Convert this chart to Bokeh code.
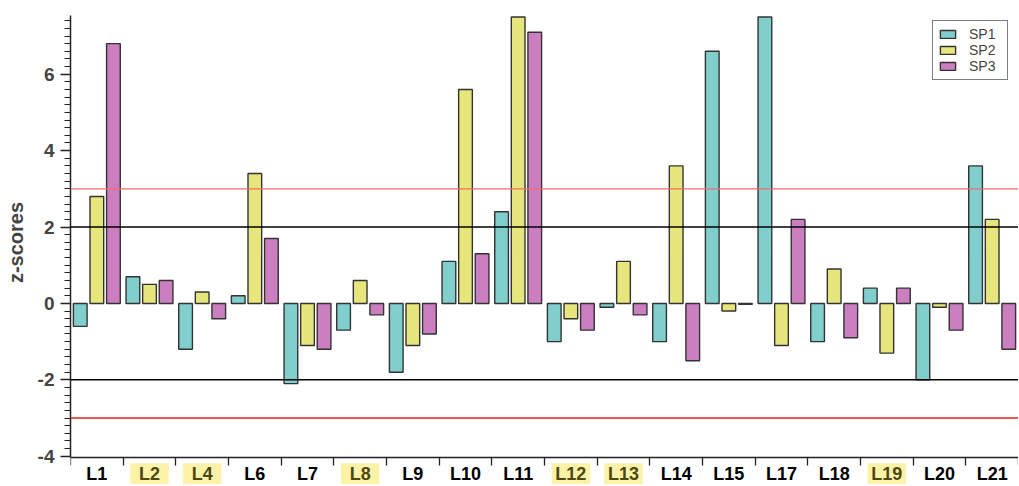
import numpy as np
from bokeh.plotting import figure
from bokeh.models import (ColumnDataSource, Range1d, FixedTicker, Span,
                          Legend, LegendItem)
from bokeh.core.properties import value
from bokeh.embed import file_html
from bokeh.resources import INLINE

categories = ["L1", "L2", "L4", "L6", "L7", "L8", "L9", "L10", "L11",
              "L12", "L13", "L14", "L15", "L17", "L18", "L19", "L20", "L21"]
highlighted = ["L2", "L4", "L8", "L12", "L13", "L19"]
sp1 = [-0.6, 0.7, -1.2, 0.2, -2.1, -0.7, -1.8, 1.1, 2.4,
       -1.0, -0.1, -1.0, 6.6, 7.5, -1.0, 0.4, -2.0, 3.6]
sp2 = [2.8, 0.5, 0.3, 3.4, -1.1, 0.6, -1.1, 5.6, 7.5,
       -0.4, 1.1, 3.6, -0.2, -1.1, 0.9, -1.3, -0.1, 2.2]
sp3 = [6.8, 0.6, -0.4, 1.7, -1.2, -0.3, -0.8, 1.3, 7.1,
       -0.7, -0.3, -1.5, -0.02, 2.2, -0.9, 0.4, -0.7, -1.2]
series_names = ["SP1", "SP2", "SP3"]
series_colors = ["#80cfcc", "#e6e67c", "#cc7fc0"]
y_ticks = [-4, -2, 0, 2, 4, 6]
thresholds_black = [2, -2]
thresholds_red = [3, -3]

FONT = "Liberation Sans"
Y_MIN, Y_MAX = -4.04, 7.55
Y_TOP = 7.93          # headroom above the axis end
Y_BOTTOM = -4.74      # extra room below the axis for the category labels
LABEL_Y = -4.47

p = figure(frame_width=948, frame_height=484, output_backend="svg", toolbar_location=None,
           x_range=Range1d(0, len(categories)), y_range=Range1d(Y_BOTTOM, Y_TOP),
           min_border_left=70, min_border_right=0, min_border_top=0,
           min_border_bottom=0)
p.outline_line_color = None
p.grid.visible = False

centers = np.arange(len(categories)) + 0.5
offsets = [-0.315, 0.0, 0.315]
renderers = []
for name, vals, col, off in zip(series_names, [sp1, sp2, sp3], series_colors, offsets):
    src = ColumnDataSource(dict(x=centers + off, top=vals, bottom=[0] * len(vals)))
    r = p.vbar(x="x", top="top", bottom="bottom", width=0.26, source=src,
               fill_color=col, line_color="#333333", line_width=1.4)
    renderers.append(r)

for lv in thresholds_black:
    p.add_layout(Span(location=lv, dimension="width", line_color="black", line_width=1.5))
p.add_layout(Span(location=thresholds_red[0], dimension="width", line_color="#f26b6b", line_width=1.3))
p.add_layout(Span(location=thresholds_red[1], dimension="width", line_color="#e8231e", line_width=1.6))

# category labels below the axis
hl_x = [c for c, cat in zip(centers, categories) if cat in highlighted]
p.rect(x=hl_x, y=[LABEL_Y] * len(hl_x), width=0.73, height=22, height_units="screen",
       fill_color="#fcf3a9", line_color=None)
lab_src = ColumnDataSource(dict(
    x=centers, y=[LABEL_Y] * len(categories), text=categories,
    color=["#4d4812" if c in highlighted else "black" for c in categories]))
p.text(x="x", y="y", text="text", source=lab_src, text_align="center",
       text_baseline="middle", text_font=value(FONT), text_font_style="bold",
       text_font_size="18px", text_color="color")

# y axis
ya = p.yaxis[0]
ya.bounds = (Y_MIN, Y_MAX)
ya.ticker = FixedTicker(ticks=y_ticks, minor_ticks=list(np.round(np.arange(-4.0, 7.6, 0.2), 2)))
ya.major_label_overrides = {t: str(t) for t in y_ticks}
ya.axis_label = "z-scores"
ya.axis_label_text_font = FONT
ya.axis_label_text_font_style = "bold"
ya.axis_label_text_font_size = "20px"
ya.axis_label_standoff = 8
ya.major_label_text_font = FONT
ya.major_label_text_font_style = "bold"
ya.major_label_text_font_size = "19px"
ya.major_label_standoff = 6
ya.major_tick_out = 10
ya.major_tick_in = 0
ya.minor_tick_out = 6
ya.minor_tick_in = 0
ya.axis_line_width = 1.5
ya.axis_line_color = "#222222"
ya.major_tick_line_color = "#222222"
ya.minor_tick_line_color = "#222222"
ya.major_tick_line_width = 1.3

# x axis (category boundaries), pinned at the bottom of the value range;
# ticks point downward (negative "in") so the axis panel needs no extra room
xa = p.xaxis[0]
xa.fixed_location = Y_MIN
xa.ticker = FixedTicker(ticks=list(range(len(categories) + 1)))
xa.major_label_text_font_size = "0px"
xa.major_label_text_color = None
xa.major_label_standoff = 0
xa.major_tick_out = 0
xa.major_tick_in = -8
xa.minor_tick_out = 0
xa.minor_tick_in = 0
xa.axis_line_width = 1.5
xa.axis_line_color = "#222222"
xa.major_tick_line_color = "#222222"
xa.major_tick_line_width = 1.3

legend = Legend(items=[LegendItem(label=n, renderers=[r]) for n, r in zip(series_names, renderers)],
                location=(862, 404), label_text_font=FONT, label_text_font_size="14px",
                glyph_width=19, glyph_height=10, label_height=13, label_width=33,
                spacing=0, padding=5, margin=0, label_standoff=12,
                border_line_color="black", border_line_width=1,
                background_fill_color="white", background_fill_alpha=1)
p.add_layout(legend, "center")

open("out.html", "w").write(file_html(p, INLINE))
